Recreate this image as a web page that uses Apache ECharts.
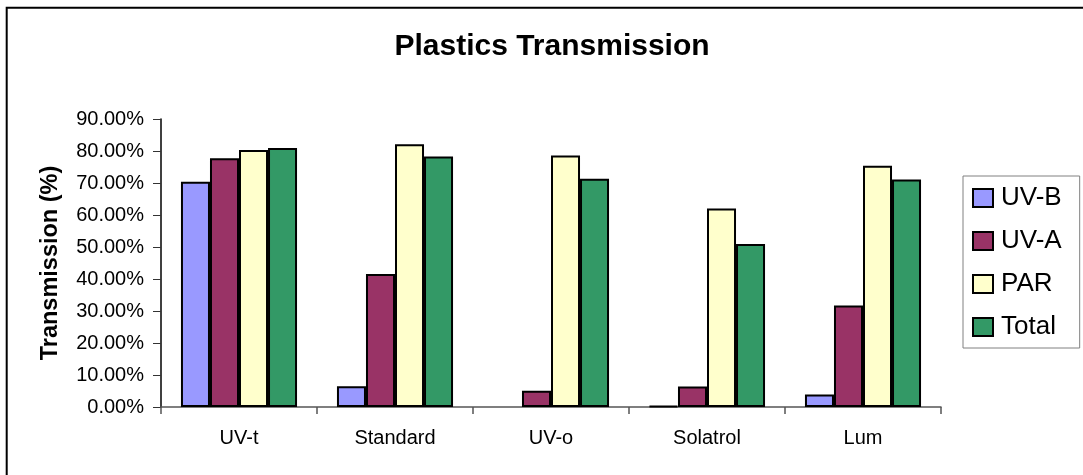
<!DOCTYPE html>
<html>
<head>
<meta charset="utf-8">
<script src="https://cdn.jsdelivr.net/npm/echarts@6/dist/echarts.min.js"></script>
<style>
  html, body { margin: 0; padding: 0; background: #fff; }
  #chart { width: 1083px; height: 475px; }
</style>
</head>
<body>
<div id="chart"></div>
<script>
// Plastic sheet types
const categories = ['UV-t', 'Standard', 'UV-o', 'Solatrol', 'Lum'];

// Transmission per waveband, in percent
const uvB   = [70.4, 6.5, null, 0.3, 3.9];
const uvA   = [77.7, 41.6, 5.1, 6.4, 31.7];
const par   = [80.3, 82.1, 78.6, 62.0, 75.4];
const total = [80.9, 78.3, 71.3, 50.9, 71.1];

const seriesNames = ['UV-B', 'UV-A', 'PAR', 'Total'];
const seriesColors = ['#9999FF', '#993366', '#FFFFCC', '#339966'];
const seriesData = [uvB, uvA, par, total];

const FONT = '"Liberation Sans", Arial, sans-serif';

const chart = echarts.init(document.getElementById('chart'), null, { renderer: 'canvas' });

chart.setOption({
  animation: false,
  backgroundColor: '#ffffff',
  textStyle: { fontFamily: FONT, color: '#000' },
  title: {
    text: 'Plastics Transmission',
    left: 547,
    top: 27,
    textAlign: 'center',
    textStyle: { fontFamily: FONT, fontSize: 30, fontWeight: 'bold', color: '#000' }
  },
  graphic: [{
    type: 'rect',
    shape: { x: 6.7, y: 7.7, width: 1100, height: 500 },
    style: { fill: 'none', stroke: '#000', lineWidth: 2 },
    silent: true,
    z: -1
  }],
  legend: {
    orient: 'vertical',
    left: 963,
    top: 176,
    padding: [9, 18, 8, 9],
    itemWidth: 20,
    itemHeight: 18,
    itemGap: 17,
    icon: 'rect',
    borderColor: '#808080',
    borderWidth: 1,
    textStyle: { fontFamily: FONT, fontSize: 26, color: '#000', padding: [0, 0, 0, 3] },
    data: seriesNames
  },
  grid: {
    left: 161,
    right: 142,
    top: 119,
    bottom: 68,
    containLabel: false
  },
  xAxis: {
    type: 'category',
    data: categories,
    boundaryGap: true,
    axisLine: { lineStyle: { color: '#555', width: 1.5 } },
    axisTick: { show: true, length: 7, inside: false, lineStyle: { color: '#555', width: 1.5 } },
    axisLabel: { fontFamily: FONT, fontSize: 20, color: '#000', margin: 21 },
    splitLine: { show: false }
  },
  yAxis: {
    type: 'value',
    min: 0,
    max: 90,
    interval: 10,
    name: 'Transmission (%)',
    nameLocation: 'middle',
    nameGap: 98,
    nameTextStyle: { fontFamily: FONT, fontSize: 23.5, fontWeight: 'bold', color: '#000' },
    axisLine: { show: true, lineStyle: { color: '#000', width: 1.5 } },
    axisTick: { show: true, length: 8, inside: false, lineStyle: { color: '#333', width: 1 } },
    axisLabel: {
      fontFamily: FONT, fontSize: 20, color: '#000', margin: 17,
      formatter: v => v.toFixed(2) + '%'
    },
    splitLine: { show: false }
  },
  series: seriesNames.map((name, i) => ({
    name,
    type: 'bar',
    data: seriesData[i],
    barGap: '0%',
    barCategoryGap: '25.6%',
    itemStyle: {
      color: seriesColors[i],
      borderColor: '#000',
      borderWidth: 2
    }
  }))
});
</script>
</body>
</html>
